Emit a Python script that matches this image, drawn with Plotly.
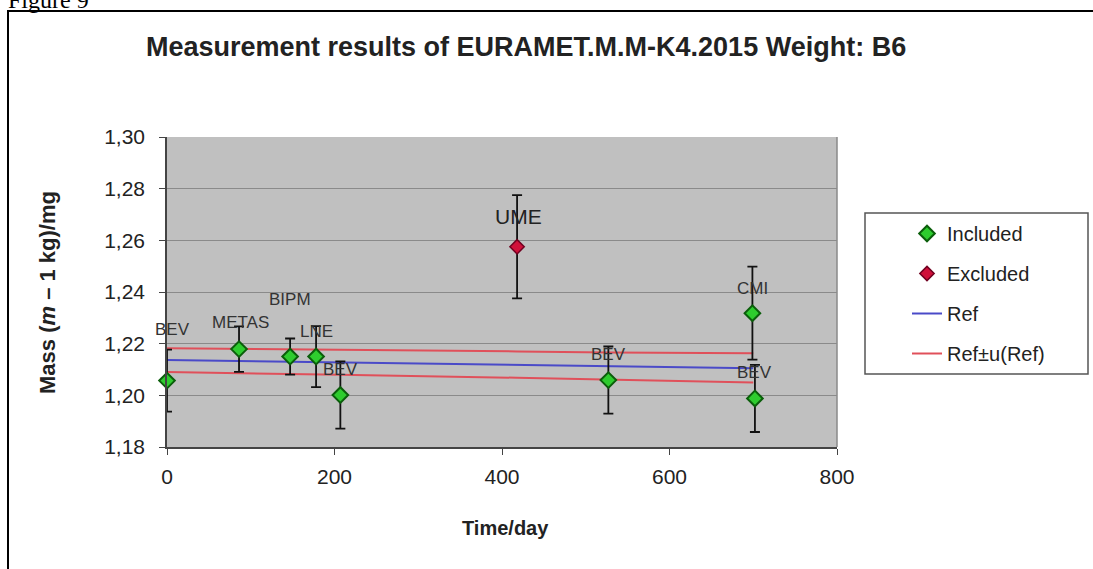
import plotly.graph_objects as go

# ---------------- data ----------------
inc_days = [0, 86, 147, 178, 207, 527, 699, 702]
inc_mass = [1.2057, 1.2179, 1.2150, 1.2150, 1.2001, 1.2059, 1.2318, 1.1988]
inc_unc = [0.0120, 0.0088, 0.0070, 0.0118, 0.0130, 0.0130, 0.0180, 0.0130]
inc_labels = ["BEV", "METAS", "BIPM", "LNE", "BEV", "BEV", "CMI", "BEV"]

exc_days = [418]
exc_mass = [1.2575]
exc_unc = [0.0200]
exc_labels = ["UME"]

ref_days = [0, 86, 147, 178, 207, 418, 527, 700]
ref_mass = [1.2137, 1.2133, 1.2131, 1.2129, 1.2128, 1.2118, 1.2113, 1.2105]
ref_upper = [1.2182, 1.2180, 1.2179, 1.2178, 1.2175, 1.2170, 1.2166, 1.2163]
ref_lower = [1.2090, 1.2087, 1.2085, 1.2083, 1.2080, 1.2068, 1.2062, 1.2050]

x_ticks = [0, 200, 400, 600, 800]
y_ticks = [1.18, 1.20, 1.22, 1.24, 1.26, 1.28, 1.30]

# ---------------- styling ----------------
W, H = 1093, 569
ML, MR, MT, MB = 167, 256, 137, 122
PW, PH = W - ML - MR, H - MT - MB
FONT = "Liberation Sans, Arial, sans-serif"
TXT = "#222222"


def px_x(p):
    return (p - ML) / PW


def px_y(p):
    return 1 - (p - MT) / PH


inc_label_shift = [(5, 51), (1, 27), (0, 57), (0, 25), (0, 26), (0, 26), (0, 25), (0, 26)]
exc_label_shift = [(1, 30)]

fig = go.Figure()

# reference lines (drawn below points)
fig.add_trace(go.Scatter(x=ref_days, y=ref_upper, mode="lines", name="Ref±u(Ref)",
                         line=dict(color="#e0505a", width=2), legendgroup="d", legendrank=4,
                         hoverinfo="skip"))
fig.add_trace(go.Scatter(x=ref_days, y=ref_lower, mode="lines", name="Ref±u(Ref)",
                         line=dict(color="#e0505a", width=2), legendgroup="d", showlegend=False,
                         hoverinfo="skip"))
fig.add_trace(go.Scatter(x=ref_days, y=ref_mass, mode="lines", name="Ref",
                         line=dict(color="#4a4ac8", width=2), legendgroup="c", legendrank=3,
                         hoverinfo="skip"))

err_style = dict(type="data", thickness=1.8, width=5, color="#111111")

fig.add_trace(go.Scatter(x=inc_days, y=inc_mass, mode="markers", name="Included",
                         error_y=dict(array=inc_unc, **err_style),
                         marker=dict(symbol="diamond", size=12, color="#2ecc2e",
                                     line=dict(color="#0b5e0b", width=2)),
                         legendgroup="a", legendrank=1, cliponaxis=False))
fig.add_trace(go.Scatter(x=exc_days, y=exc_mass, mode="markers", name="Excluded",
                         error_y=dict(array=exc_unc, **err_style),
                         marker=dict(symbol="diamond", size=11, color="#d0103a",
                                     line=dict(color="#700020", width=1.5)),
                         legendgroup="b", legendrank=2, cliponaxis=False))

annotations = []
for d, m, lab, (dx, dy) in zip(inc_days, inc_mass, inc_labels, inc_label_shift):
    annotations.append(dict(x=d, y=m, xref="x", yref="y", text=lab, showarrow=False,
                            xanchor="center", yanchor="middle",
                            xshift=dx, yshift=dy, font=dict(family=FONT, size=17, color="#333333")))
for d, m, lab, (dx, dy) in zip(exc_days, exc_mass, exc_labels, exc_label_shift):
    annotations.append(dict(x=d, y=m, xref="x", yref="y", text=lab, showarrow=False,
                            xanchor="center", yanchor="middle",
                            xshift=dx, yshift=dy, font=dict(family=FONT, size=21, color="#222222")))

# titles
annotations.append(dict(x=px_x(526), y=px_y(47), xref="paper", yref="paper", showarrow=False,
                        xanchor="center", yanchor="middle",
                        text="<b>Measurement results of EURAMET.M.M-K4.2015 Weight: B6</b>",
                        font=dict(family=FONT, size=27, color=TXT)))
annotations.append(dict(x=px_x(505), y=px_y(528), xref="paper", yref="paper", showarrow=False,
                        xanchor="center", yanchor="middle",
                        text="<b>Time/day</b>", font=dict(family=FONT, size=20, color=TXT)))
annotations.append(dict(x=px_x(47), y=px_y(293), xref="paper", yref="paper", showarrow=False,
                        xanchor="center", yanchor="middle",
                        textangle=-90, text="<b>Mass (<i>m</i> – 1 kg)/mg</b>",
                        font=dict(family=FONT, size=22, color=TXT)))
annotations.append(dict(x=px_x(6), y=px_y(15), xref="paper", yref="paper", showarrow=False,
                        xanchor="left", yanchor="bottom", text="Figure 9",
                        font=dict(family="Liberation Serif, Times New Roman, serif", size=24,
                                  color="#000000")))

shapes = [
    # outer chart border
    dict(type="rect", xref="paper", yref="paper", x0=px_x(8), y0=px_y(600), x1=px_x(1120),
         y1=px_y(11), line=dict(color="#000000", width=2), fillcolor="rgba(0,0,0,0)", layer="below"),
    # legend box
    dict(type="rect", xref="paper", yref="paper", x0=px_x(865), y0=px_y(374), x1=px_x(1088),
         y1=px_y(213), line=dict(color="#555555", width=1.5), fillcolor="#ffffff", layer="below"),
]

fig.update_layout(
    width=W, height=H,
    margin=dict(l=ML, r=MR, t=MT, b=MB),
    paper_bgcolor="#ffffff",
    plot_bgcolor="#c0c0c0",
    separators=",.",
    font=dict(family=FONT, color=TXT),
    showlegend=True,
    legend=dict(x=px_x(907), y=px_y(214), xanchor="left", yanchor="top",
                bgcolor="rgba(0,0,0,0)", borderwidth=0, tracegroupgap=11,
                font=dict(family=FONT, size=20, color=TXT)),
    annotations=annotations,
    shapes=shapes,
    xaxis=dict(range=[0, 800], tickvals=x_ticks, showgrid=False, zeroline=False,
               ticks="outside", ticklen=6, tickcolor="#444444", tickwidth=1,
               showline=True, linecolor="#444444", linewidth=1.5, mirror=False,
               ticklabelstandoff=4,
               tickfont=dict(family=FONT, size=21, color=TXT)),
    yaxis=dict(range=[1.18, 1.30], tickvals=y_ticks, tickformat=".2f", showgrid=True,
               gridcolor="#8a8a8a", gridwidth=1, zeroline=False,
               ticks="outside", ticklen=6, tickcolor="#444444", tickwidth=1,
               showline=True, linecolor="#444444", linewidth=1.5,
               ticklabelstandoff=10,
               tickfont=dict(family=FONT, size=21, color=TXT)),
)

# right border of plot area
fig.add_shape(type="line", xref="paper", yref="paper", x0=1, x1=1, y0=0, y1=1,
              line=dict(color="#8a8a8a", width=1.5))

fig.write_html("out.html")
